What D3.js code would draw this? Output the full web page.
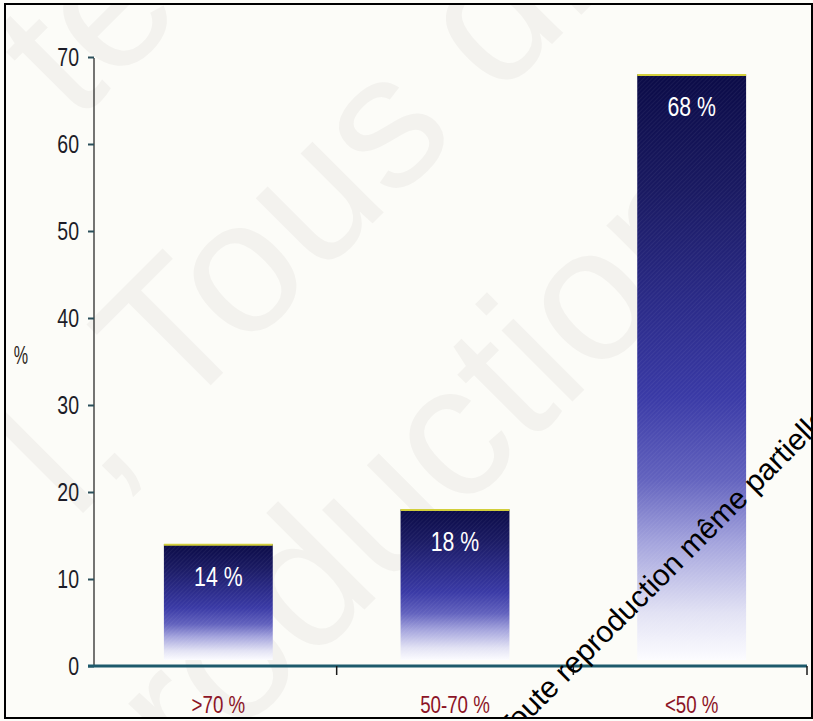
<!DOCTYPE html>
<html>
<head>
<meta charset="utf-8">
<script src="https://cdn.jsdelivr.net/npm/d3@7"></script>
<style>
  html, body { margin: 0; padding: 0; background: #ffffff; }
  svg { display: block; }
</style>
</head>
<body>
<svg id="chart" width="813" height="721"></svg>
<script>
// Share of patients by class
const categories = [">70 %", "50-70 %", "<50 %"];
const values = [14, 18, 68];
const valueLabels = ["14 %", "18 %", "68 %"];
const yTicks = [0, 10, 20, 30, 40, 50, 60, 70];
const yTickLabels = ["0", "10", "20", "30", "40", "50", "60", "70"];
const yTitle = "%";
const stampText = "Toute reproduction même partielle";
const watermarkLines = ["te", "l, Tous droits", "reproduction"];

const W = 813, H = 721;
const sans = "'Liberation Sans', Arial, sans-serif";

// narrow the letterforms horizontally around each text's anchor point
function squeeze(sel, s) {
  sel.each(function () {
    const t = d3.select(this);
    const x = +t.attr("x") || 0;
    const y = +t.attr("y") || 0;
    t.attr("x", 0).attr("y", 0)
      .attr("transform", `translate(${x},${y}) scale(${s},1)`);
  });
}

const svg = d3.select("#chart");
const defs = svg.append("defs");

// vertical fade used by every bar: deep navy on top, blue, lilac, white at the base
const grad = defs.append("linearGradient")
  .attr("id", "barFade")
  .attr("x1", 0).attr("y1", 0).attr("x2", 0).attr("y2", 1);
[
  [0.00, "#0b0b47"],
  [0.20, "#1a1a62"],
  [0.38, "#2a2a86"],
  [0.55, "#3a3aa6"],
  [0.69, "#6262be"],
  [0.80, "#a4a4dd"],
  [0.92, "#e2e2f4"],
  [1.00, "#fcfcff"]
].forEach(([o, c]) => grad.append("stop").attr("offset", o).attr("stop-color", c));

// fine diagonal screen over the bars
const pat = defs.append("pattern")
  .attr("id", "screen")
  .attr("width", 3).attr("height", 3)
  .attr("patternUnits", "userSpaceOnUse")
  .attr("patternTransform", "rotate(45)");
pat.append("line")
  .attr("x1", 0).attr("y1", 0).attr("x2", 0).attr("y2", 3)
  .attr("stroke", "#ffffff").attr("stroke-width", 1).attr("stroke-opacity", 0.10);

defs.append("clipPath").attr("id", "frameClip")
  .append("rect").attr("x", 6).attr("y", 5).attr("width", 806).attr("height", 712);

// paper
svg.append("rect").attr("width", W).attr("height", H).attr("fill", "#fcfcf8");

// faint background watermark
const wm = svg.append("g").attr("clip-path", "url(#frameClip)");
const wmPos = [[75, 125], [74, 522], [-4, 978]];
watermarkLines.forEach((t, i) => {
  wm.append("text")
    .attr("transform", `translate(${wmPos[i][0]},${wmPos[i][1]}) rotate(-45)`)
    .attr("font-family", sans)
    .attr("font-size", 190)
    .attr("fill", "#f3f2ee")
    .text(t);
});

// scales
const y = d3.scaleLinear().domain([0, 70]).range([666, 57]);
const x = d3.scaleBand().domain(categories).range([100, 810]).paddingInner(0.54).paddingOuter(0.27);
const step = x.step();

// bars
const bars = svg.append("g");
bars.selectAll("rect.bar")
  .data(values)
  .join("rect")
  .attr("class", "bar")
  .attr("x", (d, i) => x(categories[i]))
  .attr("y", d => y(d))
  .attr("width", x.bandwidth())
  .attr("height", d => y(0) - 6 - y(d))
  .attr("fill", "url(#barFade)");
bars.selectAll("rect.screen")
  .data(values)
  .join("rect")
  .attr("class", "screen")
  .attr("x", (d, i) => x(categories[i]))
  .attr("y", d => y(d))
  .attr("width", x.bandwidth())
  .attr("height", d => y(0) - 6 - y(d))
  .attr("fill", "url(#screen)");
bars.selectAll("line.cap")
  .data(values)
  .join("line")
  .attr("class", "cap")
  .attr("x1", (d, i) => x(categories[i]))
  .attr("x2", (d, i) => x(categories[i]) + x.bandwidth())
  .attr("y1", d => y(d) + 0.5)
  .attr("y2", d => y(d) + 0.5)
  .attr("stroke", "#d2cf3c")
  .attr("stroke-width", 2);

// value labels inside the bars
bars.selectAll("text.val")
  .data(values)
  .join("text")
  .attr("class", "val")
  .attr("x", (d, i) => x(categories[i]) + x.bandwidth() / 2)
  .attr("y", d => y(d) + 42)
  .attr("text-anchor", "middle")
  .attr("font-family", sans)
  .attr("font-size", 28)
  .attr("fill", "#ffffff")
  .text((d, i) => valueLabels[i])
  .call(squeeze, 0.76);

// y axis
const yAxis = svg.append("g")
  .attr("transform", "translate(94,0)")
  .call(d3.axisLeft(y).tickValues(yTicks).tickFormat((d, i) => yTickLabels[i]).tickSize(6).tickPadding(9));
yAxis.select(".domain").attr("stroke", "#1a1a1a").attr("stroke-width", 1.2)
  .attr("d", `M0,${y(70) + 1}V${y(0)}`);
yAxis.selectAll(".tick line").attr("stroke", "#2b4f5a").attr("stroke-width", 2);
yAxis.selectAll(".tick text")
  .attr("font-family", sans)
  .attr("font-size", 25)
  .attr("fill", "#1c1c28")
  .call(squeeze, 0.78);

svg.append("text")
  .attr("x", 21).attr("y", 364)
  .attr("text-anchor", "middle")
  .attr("font-family", sans)
  .attr("font-size", 26)
  .attr("fill", "#2a2418")
  .text(yTitle)
  .call(squeeze, 0.62);

// x axis: baseline, ticks at class boundaries, class labels
const xAxis = svg.append("g").attr("transform", `translate(0,${y(0)})`);
xAxis.append("line")
  .attr("x1", 88).attr("x2", x.range()[1] - 3)
  .attr("stroke", "#1d5a6c").attr("stroke-width", 3);
const bounds = categories.slice(1).map(c => x(c) - step * x.paddingInner() / 2)
  .concat([x.range()[1] - 3]);
xAxis.selectAll("line.tk")
  .data(bounds)
  .join("line")
  .attr("class", "tk")
  .attr("x1", d => d).attr("x2", d => d)
  .attr("y1", 0).attr("y2", 9)
  .attr("stroke", "#1a1a1a").attr("stroke-width", 1.5);
const xLabels = svg.append("g")
  .attr("transform", `translate(0,${y(0)})`)
  .call(d3.axisBottom(x).tickSize(0).tickPadding(30));
xLabels.select(".domain").remove();
xLabels.selectAll(".tick text")
  .attr("font-family", sans)
  .attr("font-size", 24)
  .attr("fill", "#8c1426")
  .call(squeeze, 0.78);

// diagonal copyright stamp
svg.append("g").attr("clip-path", "url(#frameClip)")
  .append("text")
  .attr("transform", "translate(509,741) rotate(-45)")
  .attr("font-family", sans)
  .attr("font-size", 30)
  .attr("fill", "#000000")
  .text(stampText);

// frame
svg.append("rect")
  .attr("x", 5).attr("y", 4).attr("width", 807).attr("height", 714)
  .attr("fill", "none").attr("stroke", "#000000").attr("stroke-width", 2);
</script>
</body>
</html>
